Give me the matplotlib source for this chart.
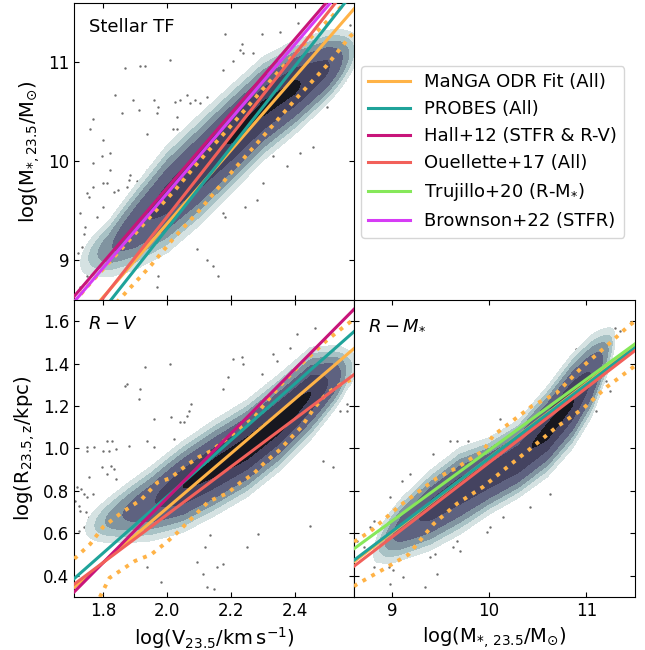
import numpy as np
import matplotlib.pyplot as plt

# legend entries and colours
names = ['MaNGA ODR Fit (All)', 'PROBES (All)', 'Hall+12 (STFR & R-V)',
         'Ouellette+17 (All)', 'Trujillo+20 (R-M$_{*}$)', 'Brownson+22 (STFR)']
colors = ['#ffb347', '#1fa39a', '#c8157a', '#f2605a', '#86e85a', '#d63cf5']

# linear relations y = slope * x + icpt (None = not shown in that panel)
tf_slope = [3.71, 4.10, 3.76, 4.10, None, 3.765]
tf_icpt = [1.95, 1.12, 2.21, 1.24, None, 2.146]
rv_slope = [1.286, 1.33, 1.522, 1.129, None, None]
rv_icpt = [-1.853, -1.887, -2.278, -1.570, None, None]
rm_slope = [0.3515, 0.3466, None, 0.3518, 0.3341, None]
rm_icpt = [-2.560, -2.511, None, -2.584, -2.349, None]

# MaNGA scatter bands (dotted)
tf_up_x = [1.71, 1.749, 1.85, 1.95, 2.025, 2.10, 2.207, 2.30, 2.40, 2.515, 2.585]
tf_up_y = [8.58, 8.73, 9.09, 9.45, 9.71, 10.00, 10.385, 10.73, 11.09, 11.46, 11.70]
tf_lo_x = [1.82, 1.858, 1.95, 2.025, 2.10, 2.207, 2.30, 2.40, 2.50, 2.572, 2.585]
tf_lo_y = [8.50, 8.63, 8.95, 9.24, 9.50, 9.91, 10.25, 10.62, 10.97, 11.26, 11.30]
rv_up_x = [1.71, 1.76, 1.80, 1.86, 1.92, 1.97, 2.01, 2.06, 2.10, 2.14, 2.19, 2.23,
           2.27, 2.30, 2.35, 2.40, 2.45, 2.50, 2.55, 2.585]
rv_up_y = [0.48, 0.55, 0.63, 0.70, 0.76, 0.84, 0.86, 0.92, 0.96, 0.99, 1.05, 1.10,
           1.14, 1.20, 1.29, 1.37, 1.44, 1.51, 1.57, 1.61]
rv_lo_x = [1.79, 1.82, 1.86, 1.90, 1.95, 2.00, 2.03, 2.09, 2.13, 2.19, 2.23, 2.27,
           2.31, 2.35, 2.40, 2.42, 2.46, 2.50, 2.54, 2.585]
rv_lo_y = [0.30, 0.39, 0.43, 0.47, 0.50, 0.56, 0.60, 0.69, 0.75, 0.79, 0.84, 0.88,
           0.94, 0.99, 1.07, 1.10, 1.19, 1.26, 1.30, 1.33]
rm_up_x = [8.61, 8.78, 9.08, 9.46, 9.67, 9.94, 10.04, 10.24, 10.44, 10.69, 10.97, 11.2, 11.44, 11.5]
rm_up_y = [0.56, 0.61, 0.73, 0.86, 0.91, 0.99, 1.06, 1.13, 1.20, 1.26, 1.39, 1.48, 1.58, 1.60]
rm_lo_x = [8.61, 8.64, 8.91, 9.17, 9.43, 9.67, 9.94, 10.18, 10.44, 10.69, 10.97, 11.21, 11.5]
rm_lo_y = [0.35, 0.36, 0.43, 0.50, 0.645, 0.74, 0.82, 0.91, 1.005, 1.10, 1.19, 1.29, 1.39]

# galaxy density ridge: node x, ridge centre, vertical sigma, relative density
tf_nx = [1.72, 1.76, 1.82, 1.90, 2.00, 2.10, 2.20, 2.30, 2.40, 2.50, 2.56, 2.60]
tf_nc = [8.95, 9.03, 9.12, 9.33, 9.62, 9.91, 10.22, 10.53, 10.75, 10.95, 11.07, 11.15]
tf_ns = [0.12, 0.13, 0.15, 0.19, 0.23, 0.23, 0.22, 0.21, 0.19, 0.16, 0.14, 0.12]
tf_na = [0.02, 0.10, 0.25, 0.48, 0.66, 0.76, 0.86, 0.90, 0.90, 0.60, 0.20, 0.02]
rv_nx = [1.74, 1.78, 1.85, 1.95, 2.05, 2.15, 2.25, 2.35, 2.45, 2.52, 2.56, 2.60]
rv_nc = [0.62, 0.64, 0.68, 0.74, 0.82, 0.91, 1.00, 1.12, 1.26, 1.33, 1.37, 1.40]
rv_ns = [0.05, 0.055, 0.065, 0.078, 0.087, 0.09, 0.09, 0.09, 0.088, 0.07, 0.06, 0.05]
rv_na = [0.03, 0.10, 0.25, 0.50, 0.85, 0.95, 1.00, 1.00, 0.85, 0.45, 0.15, 0.02]
rm_nx = [8.80, 8.90, 9.10, 9.40, 9.70, 10.00, 10.30, 10.60, 10.85, 11.05, 11.20, 11.30]
rm_nc = [0.50, 0.55, 0.62, 0.71, 0.80, 0.87, 0.95, 1.08, 1.22, 1.34, 1.45, 1.52]
rm_ns = [0.05, 0.06, 0.068, 0.08, 0.085, 0.075, 0.075, 0.085, 0.09, 0.085, 0.065, 0.05]
rm_na = [0.03, 0.12, 0.40, 0.65, 0.72, 0.72, 0.78, 0.93, 0.88, 0.55, 0.20, 0.03]

# outlying galaxies (gray dots)
tf_px = [1.770, 1.760, 1.801, 1.822, 1.796, 1.770, 1.728, 1.744, 1.739, 1.734, 1.723, 1.755,
         1.801, 1.833, 1.848, 1.869, 1.916, 1.932, 1.838, 1.859, 1.895, 1.911, 1.937, 1.958,
         1.973, 1.968, 2.010, 1.999, 2.025, 2.041, 2.062, 2.072, 2.088, 2.104, 2.124, 2.020,
         2.031, 2.031, 1.885, 1.880, 1.874, 1.812, 1.770, 1.749, 1.801, 1.822, 1.906, 1.916,
         1.937, 1.958, 1.791, 1.801, 1.749, 1.728, 1.765, 1.781, 2.182, 2.208, 2.176, 2.234,
         2.229, 2.239, 2.270, 2.296, 2.353, 2.411, 2.468, 2.530, 2.520, 2.557, 2.575, 2.572,
         2.499, 2.499, 2.458, 2.416, 2.333, 2.301, 2.281, 2.244, 2.182, 2.176, 2.093, 2.124,
         2.145, 2.161, 1.973, 1.968, 1.926, 2.374]
tf_py = [10.43, 10.33, 10.22, 10.08, 10.05, 9.98, 9.48, 9.34, 9.27, 9.14, 9.07, 9.64,
         9.78, 9.69, 9.71, 10.94, 10.96, 10.96, 10.67, 10.49, 10.62, 10.52, 10.28, 10.62,
         10.55, 10.49, 11.02, 10.06, 10.60, 10.62, 10.67, 10.59, 10.62, 10.59, 10.65, 10.33,
         10.33, 10.45, 9.86, 9.81, 9.74, 9.78, 9.74, 9.68, 9.54, 9.91, 9.80, 9.71,
         9.91, 9.61, 9.31, 9.21, 8.84, 8.73, 9.21, 9.44, 11.29, 11.01, 10.92, 11.19,
         11.13, 11.09, 11.09, 11.29, 11.31, 11.40, 11.19, 10.99, 10.82, 10.82, 10.96, 11.38,
         10.65, 10.55, 10.15, 10.08, 10.05, 9.78, 9.61, 9.54, 9.44, 9.48, 9.12, 9.00,
         8.94, 8.84, 8.84, 8.73, 9.04, 9.95]
rv_px = [2.463, 2.406, 2.385, 2.416, 2.333, 2.296, 2.343, 2.317, 2.234, 2.239, 2.208, 2.192,
         2.176, 2.010, 1.932, 1.874, 1.827, 1.801, 1.749, 1.755, 1.770, 1.718, 1.713, 1.729,
         1.739, 1.770, 1.937, 2.176, 2.249, 2.286, 2.447, 2.489, 2.520, 2.541, 2.562, 2.562,
         2.124, 2.156, 2.114, 1.870, 1.917, 1.912, 1.751, 1.772, 1.813, 1.818, 1.839, 1.881,
         1.938, 1.959, 1.824, 1.798, 1.834, 1.813, 1.839, 1.730, 1.740, 1.751, 1.725, 1.745,
         1.756, 1.725, 1.980, 2.147, 2.094, 2.120, 2.136, 2.042, 2.053, 2.074, 2.068, 2.063,
         2.011, 1.959, 2.022, 1.897, 1.917]
rv_py = [1.570, 1.539, 1.476, 1.374, 1.445, 1.351, 1.413, 1.311, 1.429, 1.398, 1.421, 1.335,
         1.280, 1.398, 1.382, 1.303, 1.037, 0.990, 0.990, 0.864, 0.786, 0.817, 0.754, 0.707,
         0.629, 0.629, 0.441, 0.456, 0.535, 0.598, 0.637, 0.943, 0.911, 1.178, 1.178, 1.209,
         0.347, 0.441, 0.409, 1.296, 1.280, 1.233, 1.005, 1.005, 1.037, 0.990, 0.998, 1.013,
         1.037, 1.005, 0.919, 0.911, 0.903, 0.880, 0.856, 0.809, 0.786, 0.770, 0.731, 0.700,
         0.676, 0.613, 0.370, 0.339, 0.464, 0.535, 0.590, 1.123, 1.123, 1.209, 1.178, 1.154,
         1.147, 1.139, 1.045, 0.833, 0.864]
rm_px = [11.290, 11.341, 11.136, 10.897, 11.000, 11.102, 11.239, 11.205, 9.786, 9.666, 9.598,
         9.427, 9.187, 9.102, 8.982, 8.811, 8.777, 8.965, 9.016, 9.119, 8.982, 9.341, 9.393,
         9.444, 9.461, 9.632, 9.700, 9.666, 9.700, 9.974, 10.008, 10.145, 10.418, 10.623,
         8.640, 8.709, 8.811, 10.110, 10.281]
rm_py = [1.570, 1.554, 1.554, 1.468, 1.366, 1.178, 1.272, 1.319, 1.037, 1.037, 1.037,
         0.974, 0.880, 0.849, 0.770, 0.660, 0.629, 0.441, 0.425, 0.394, 0.362, 0.347, 0.488,
         0.504, 0.409, 0.535, 0.519, 0.566, 0.629, 0.605, 0.629, 0.676, 0.723, 0.786,
         0.566, 0.535, 0.441, 1.139, 1.053]

tf_xlim = (1.709, 2.585)
tf_ylim = (8.6, 11.6)
r_ylim = (0.3, 1.7)
rm_xlim = (8.61, 11.5)

levels = [0.04, 0.09, 0.16, 0.28, 0.55, 0.85, 2.0]
shades = ['#d5e2e2', '#a8c2c5', '#8094a0', '#5e6280', '#444360', '#17171f']


def panel(ax, xlim, ylim, nx, nc, ns, na, px, py, slope, icpt, ux, uy, lx, ly):
    ax.scatter(px, py, s=3, c='#6e6e6e', marker='o', linewidths=0, zorder=1)
    gx = np.linspace(xlim[0], xlim[1], 300)
    gy = np.linspace(ylim[0], ylim[1], 300)
    X, Y = np.meshgrid(gx, gy)
    c = np.interp(gx, nx, nc)
    s = np.interp(gx, nx, ns)
    a = np.interp(gx, nx, na, left=0, right=0)
    Z = a * np.exp(-0.5 * ((Y - c) / s) ** 2)
    ax.contourf(X, Y, Z, levels=levels, colors=shades, zorder=2)
    ax.plot(ux, uy, color=colors[0], lw=2.8, ls=(0, (1, 1.6)), zorder=3)
    ax.plot(lx, ly, color=colors[0], lw=2.8, ls=(0, (1, 1.6)), zorder=3)
    xs = np.array(xlim)
    handles = {}
    for i in range(len(names)):
        if slope[i] is None:
            continue
        h, = ax.plot(xs, slope[i] * xs + icpt[i], color=colors[i], lw=2.2,
                     zorder=4, label=names[i])
        handles[i] = h
    ax.set_xlim(xlim)
    ax.set_ylim(ylim)
    ax.tick_params(direction='in', top=True, right=True, labelsize=12)
    return handles


fig = plt.figure(figsize=(6.45, 6.5), dpi=100)
ax_tf = fig.add_axes([74 / 645, 1 - 300 / 650, 280 / 645, 297 / 650])
ax_rv = fig.add_axes([74 / 645, 1 - 597 / 650, 280 / 645, 297 / 650])
ax_rm = fig.add_axes([354 / 645, 1 - 597 / 650, 281 / 645, 297 / 650])

h1 = panel(ax_tf, tf_xlim, tf_ylim, tf_nx, tf_nc, tf_ns, tf_na, tf_px, tf_py,
           tf_slope, tf_icpt, tf_up_x, tf_up_y, tf_lo_x, tf_lo_y)
h2 = panel(ax_rv, tf_xlim, r_ylim, rv_nx, rv_nc, rv_ns, rv_na, rv_px, rv_py,
           rv_slope, rv_icpt, rv_up_x, rv_up_y, rv_lo_x, rv_lo_y)
h3 = panel(ax_rm, rm_xlim, r_ylim, rm_nx, rm_nc, rm_ns, rm_na, rm_px, rm_py,
           rm_slope, rm_icpt, rm_up_x, rm_up_y, rm_lo_x, rm_lo_y)

ax_tf.set_yticks([9, 10, 11])
ax_tf.set_xticks([1.8, 2.0, 2.2, 2.4])
ax_tf.tick_params(labelbottom=False)
ax_rv.set_xticks([1.8, 2.0, 2.2, 2.4])
ax_rv.set_yticks([0.4, 0.6, 0.8, 1.0, 1.2, 1.4, 1.6])
ax_rm.set_xticks([9, 10, 11])
ax_rm.set_yticks([0.4, 0.6, 0.8, 1.0, 1.2, 1.4, 1.6])
ax_rm.tick_params(labelleft=False)

ax_tf.set_ylabel(r'$\log(\mathrm{M_{*,23.5}/M_{\odot}})$', fontsize=14)
ax_rv.set_ylabel(r'$\log(\mathrm{R_{23.5,z}/kpc})$', fontsize=14)
ax_rv.set_xlabel(r'$\log(\mathrm{V_{23.5}/km\,s^{-1}})$', fontsize=14)
ax_rm.set_xlabel(r'$\log(\mathrm{M_{*,\,23.5}/M_{\odot}})$', fontsize=14)

ax_tf.text(0.054, 0.92, 'Stellar TF', transform=ax_tf.transAxes, fontsize=13, va='center')
ax_rv.text(0.05, 0.92, r'$R-V$', transform=ax_rv.transAxes, fontsize=13, va='center')
ax_rm.text(0.05, 0.92, r'$R-M_{*}$', transform=ax_rm.transAxes, fontsize=13, va='center')

allh = {}
for d in (h1, h2, h3):
    for k, v in d.items():
        allh.setdefault(k, v)
order = sorted(allh)
fig.legend([allh[k] for k in order], [names[k] for k in order],
           loc='upper left', bbox_to_anchor=(361 / 645, 1 - 66 / 650),
           borderaxespad=0, fontsize=13, handlelength=2.3)

fig.savefig('out.png', dpi=100)
